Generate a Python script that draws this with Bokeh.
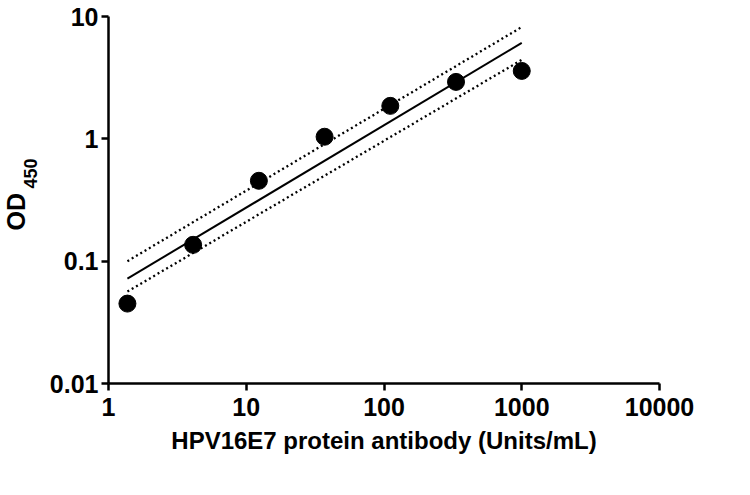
from bokeh.plotting import figure
from bokeh.models import Range1d, FixedTicker, CustomJSTickFormatter, Title
from bokeh.embed import file_html
from bokeh.resources import INLINE

# Data
conc = [1.372, 4.115, 12.35, 37.04, 111.1, 333.3, 1000.0]
od = [0.045, 0.136, 0.454, 1.04, 1.86, 2.92, 3.59]

fit_x = [1.372, 1000.0]
fit_y = [0.072, 6.08]
upper_y = [0.100, 8.2]
lower_y = [0.0564, 4.42]

x_ticks = [1, 10, 100, 1000, 10000]
y_ticks = [0.01, 0.1, 1, 10]

FONT = "Liberation Sans"

p = figure(width=734, height=479, x_axis_type="log", y_axis_type="log",
           x_range=Range1d(1, 10000), y_range=Range1d(0.01, 10),
           output_backend="svg", toolbar_location=None,
           min_border_left=108, min_border_right=75, min_border_top=16, min_border_bottom=96)

p.outline_line_color = None
p.xgrid.visible = False
p.ygrid.visible = False

p.line(fit_x, fit_y, line_color="black", line_width=2)
p.line(fit_x, upper_y, line_color="black", line_width=2.3, line_dash="2 3")
p.line(fit_x, lower_y, line_color="black", line_width=2.3, line_dash="2 3")
p.scatter(conc, od, size=17, fill_color="black", line_color="black")

fmt = CustomJSTickFormatter(code="return tick.toString();")
for ax, ticks in ((p.xaxis[0], x_ticks), (p.yaxis[0], y_ticks)):
    ax.ticker = FixedTicker(ticks=ticks, minor_ticks=[])
    ax.formatter = fmt
    ax.axis_line_width = 2.5
    ax.major_tick_line_width = 2.5
    ax.major_tick_out = 7
    ax.major_tick_in = 0
    ax.minor_tick_line_color = None
    ax.major_label_text_font = FONT
    ax.major_label_text_font_style = "bold"
    ax.major_label_text_font_size = "25px"
    ax.major_label_text_color = "black"
    ax.axis_line_color = "black"
    ax.major_tick_line_color = "black"

p.xaxis.major_label_standoff = 7
p.yaxis.major_label_standoff = 3
p.xaxis.axis_label = "HPV16E7 protein antibody (Units/mL)"
p.xaxis.axis_label_text_font = FONT
p.xaxis.axis_label_text_font_style = "bold"
p.xaxis.axis_label_text_font_size = "24px"
p.xaxis.axis_label_text_color = "black"
p.xaxis.axis_label_standoff = 8

# y-axis title "OD" with subscript "450", as two side titles
p.add_layout(Title(text="450", align="left", offset=195, standoff=16,
                   vertical_align="top",
                   text_font=FONT, text_font_style="bold", text_font_size="18px",
                   text_color="black"), "left")
p.add_layout(Title(text="OD", align="left", offset=153, standoff=-28,
                   vertical_align="bottom",
                   text_font=FONT, text_font_style="bold", text_font_size="25px",
                   text_color="black"), "left")

open("out.html", "w").write(file_html(p, INLINE))
